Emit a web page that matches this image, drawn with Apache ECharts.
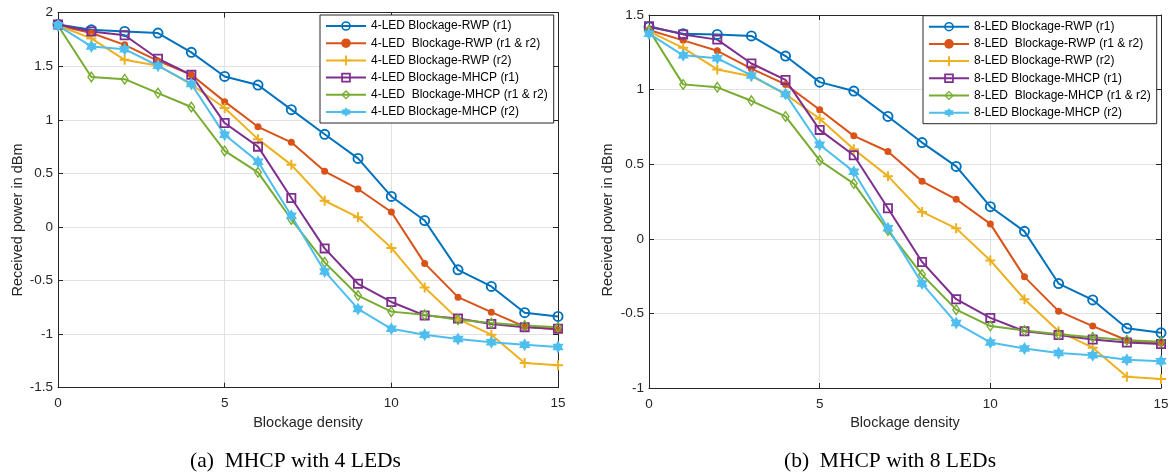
<!DOCTYPE html>
<html>
<head>
<meta charset="utf-8">
<script src="https://cdn.jsdelivr.net/npm/echarts@6/dist/echarts.min.js"></script>
<style>
html,body{margin:0;padding:0;background:#fff;}
#c{width:1176px;height:476px;}
</style>
</head>
<body>
<div id="c"></div>
<script>
// ---- data ----
const density = [0,1,2,3,4,5,6,7,8,9,10,11,12,13,14,15];

const names4 = ['4-LED Blockage-RWP (r1)', '4-LED  Blockage-RWP (r1 & r2)', '4-LED Blockage-RWP (r2)',
                '4-LED Blockage-MHCP (r1)', '4-LED  Blockage-MHCP (r1 & r2)', '4-LED Blockage-MHCP (r2)'];
const names8 = ['8-LED Blockage-RWP (r1)', '8-LED  Blockage-RWP (r1 & r2)', '8-LED Blockage-RWP (r2)',
                '8-LED Blockage-MHCP (r1)', '8-LED  Blockage-MHCP (r1 & r2)', '8-LED Blockage-MHCP (r2)'];

const rwpR1_4   = [1.89, 1.84, 1.825, 1.81, 1.63, 1.405, 1.325, 1.095, 0.865, 0.64, 0.285, 0.06, -0.40, -0.555, -0.80, -0.835];
const rwpR12_4  = [1.88, 1.81, 1.70, 1.55, 1.42, 1.17, 0.935, 0.79, 0.52, 0.355, 0.14, -0.34, -0.655, -0.795, -0.93, -0.96];
const rwpR2_4   = [1.88, 1.76, 1.56, 1.505, 1.33, 1.11, 0.82, 0.58, 0.245, 0.09, -0.195, -0.565, -0.86, -1.005, -1.27, -1.29];
const mhcpR1_4  = [1.89, 1.825, 1.79, 1.57, 1.42, 0.97, 0.75, 0.27, -0.20, -0.53, -0.70, -0.825, -0.855, -0.905, -0.935, -0.95];
const mhcpR12_4 = [1.88, 1.40, 1.38, 1.25, 1.12, 0.71, 0.51, 0.07, -0.33, -0.64, -0.79, -0.82, -0.865, -0.895, -0.92, -0.935];
const mhcpR2_4  = [1.88, 1.685, 1.66, 1.505, 1.335, 0.86, 0.61, 0.105, -0.415, -0.765, -0.95, -1.005, -1.045, -1.075, -1.10, -1.12];

const rwpR1_8   = [1.42, 1.375, 1.37, 1.36, 1.225, 1.05, 0.99, 0.82, 0.645, 0.485, 0.215, 0.05, -0.30, -0.41, -0.60, -0.63];
const rwpR12_8  = [1.40, 1.33, 1.26, 1.14, 1.035, 0.865, 0.69, 0.585, 0.385, 0.265, 0.10, -0.255, -0.485, -0.585, -0.68, -0.70];
const rwpR2_8   = [1.39, 1.28, 1.135, 1.09, 0.97, 0.805, 0.60, 0.42, 0.18, 0.07, -0.145, -0.405, -0.62, -0.73, -0.925, -0.94];
const mhcpR1_8  = [1.425, 1.37, 1.335, 1.175, 1.065, 0.73, 0.56, 0.205, -0.155, -0.405, -0.53, -0.62, -0.645, -0.675, -0.695, -0.705];
const mhcpR12_8 = [1.40, 1.035, 1.015, 0.925, 0.82, 0.525, 0.37, 0.055, -0.24, -0.475, -0.585, -0.615, -0.64, -0.66, -0.68, -0.69];
const mhcpR2_8  = [1.375, 1.23, 1.21, 1.095, 0.97, 0.63, 0.45, 0.07, -0.30, -0.565, -0.695, -0.735, -0.765, -0.78, -0.81, -0.82];

const xTicks = {min: 0, max: 15, interval: 5};
const yTicks4 = {min: -1.5, max: 2, interval: 0.5};
const yTicks8 = {min: -1, max: 1.5, interval: 0.5};

const xLabel = 'Blockage density';
const yLabel = 'Received power in dBm';
const captions = ['(a)  MHCP with 4 LEDs', '(b)  MHCP with 8 LEDs'];

// ---- styles ----
const colors = ['#0072BD', '#D95319', '#EDB120', '#7E2F8E', '#77AC30', '#4DBEEE'];
const symbols = [
  'path://M10,0A10,10,0,1,1,10,20A10,10,0,1,1,10,0ZM10,3.4A6.6,6.6,0,1,0,10,16.6A6.6,6.6,0,1,0,10,3.4Z',
  'circle',
  'path://M4,0L6,0L6,4L10,4L10,6L6,6L6,10L4,10L4,6L0,6L0,4L4,4Z',
  'path://M0,0L10,0L10,10L0,10ZM1.8,1.8L1.8,8.2L8.2,8.2L8.2,1.8Z',
  'path://M5,0L10,6L5,12L0,6ZM5,2.4L1.9,6L5,9.6L8.1,6Z',
  'path://M10,0L12.89,5L18.66,5L15.77,10L18.66,15L12.89,15L10,20L7.11,15L1.34,15L4.23,10L1.34,5L7.11,5Z'
];
const symSizes = [11, 7, 10, 10, [10, 12], 13];

const axisColor = '#262626';
const gridColor = '#e2e2e2';
const sans = 'Liberation Sans, Arial, sans-serif';

const sets = [
  {names: names4, vals: [rwpR1_4, rwpR12_4, rwpR2_4, mhcpR1_4, mhcpR12_4, mhcpR2_4]},
  {names: names8, vals: [rwpR1_8, rwpR12_8, rwpR2_8, mhcpR1_8, mhcpR12_8, mhcpR2_8]}
];

const grids = [
  {left: 58, top: 12.7, width: 500, height: 375},
  {left: 649, top: 15, width: 512, height: 373}
];

function xAxes(gi) {
  const base = {
    type: 'value', gridIndex: gi, min: xTicks.min, max: xTicks.max, interval: xTicks.interval,
    axisLine: {show: true, onZero: false, lineStyle: {color: axisColor, width: 1}},
    axisTick: {show: true, inside: true, length: 5, lineStyle: {color: axisColor}},
  };
  return [
    Object.assign({}, base, {
      position: 'bottom',
      axisLabel: {show: true, color: axisColor, fontSize: 13.5, fontFamily: sans, margin: 9},
      splitLine: {show: true, lineStyle: {color: gridColor, width: 1}},
      name: xLabel, nameLocation: 'middle', nameGap: 27,
      nameTextStyle: {color: axisColor, fontSize: 14.5, fontFamily: sans}
    }),
    Object.assign({}, base, {
      position: 'top', axisLabel: {show: false}, splitLine: {show: false}
    })
  ];
}
function yAxes(gi, t) {
  const base = {
    type: 'value', gridIndex: gi, min: t.min, max: t.max, interval: t.interval,
    axisLine: {show: true, onZero: false, lineStyle: {color: axisColor, width: 1}},
    axisTick: {show: true, inside: true, length: 5, lineStyle: {color: axisColor}},
  };
  return [
    Object.assign({}, base, {
      position: 'left',
      axisLabel: {show: true, color: axisColor, fontSize: 13.5, fontFamily: sans, margin: 5},
      splitLine: {show: true, lineStyle: {color: gridColor, width: 1}}
    }),
    Object.assign({}, base, {
      position: 'right', axisLabel: {show: false}, splitLine: {show: false}
    })
  ];
}

const series = [];
sets.forEach((s, gi) => {
  s.vals.forEach((v, k) => {
    series.push({
      type: 'line', name: s.names[k],
      xAxisIndex: gi * 2, yAxisIndex: gi * 2,
      data: density.map((x, i) => [x, v[i]]),
      symbol: symbols[k], symbolSize: symSizes[k], symbolKeepAspect: true,
      showAllSymbol: true,
      lineStyle: {color: colors[k], width: 2},
      itemStyle: {color: colors[k]},
      emphasis: {disabled: true},
      animation: false
    });
  });
});

const legendBase = {
  orient: 'vertical', backgroundColor: '#fff', borderColor: axisColor, borderWidth: 1,
  padding: [5, 6, 5, 5], itemWidth: 40, itemHeight: 12, itemGap: 5.2,
  textStyle: {color: '#000', fontSize: 12, fontFamily: sans},
  selectedMode: false
};

const option = {
  animation: false,
  backgroundColor: '#fff',
  grid: grids,
  xAxis: [...xAxes(0), ...xAxes(1)],
  yAxis: [...yAxes(0, yTicks4), ...yAxes(1, yTicks8)],
  legend: [
    Object.assign({}, legendBase, {left: 320, top: 15, data: names4}),
    Object.assign({}, legendBase, {left: 923, top: 15.7, data: names8})
  ],
  graphic: [
    {type: 'text', x: 18, y: 220, rotation: Math.PI / 2,
     style: {text: yLabel, font: '14.5px ' + sans, fill: axisColor, textAlign: 'center', textVerticalAlign: 'middle'}},
    {type: 'text', x: 608, y: 220, rotation: Math.PI / 2,
     style: {text: yLabel, font: '14.5px ' + sans, fill: axisColor, textAlign: 'center', textVerticalAlign: 'middle'}},
    {type: 'text', x: 295.5, y: 461,
     style: {text: captions[0], font: '21.5px Liberation Serif, Times New Roman, serif', fill: '#000', textAlign: 'center', textVerticalAlign: 'middle'}},
    {type: 'text', x: 890, y: 461,
     style: {text: captions[1], font: '21.5px Liberation Serif, Times New Roman, serif', fill: '#000', textAlign: 'center', textVerticalAlign: 'middle'}}
  ],
  series: series
};

const chart = echarts.init(document.getElementById('c'), null, {renderer: 'canvas'});
chart.setOption(option);
</script>
</body>
</html>
